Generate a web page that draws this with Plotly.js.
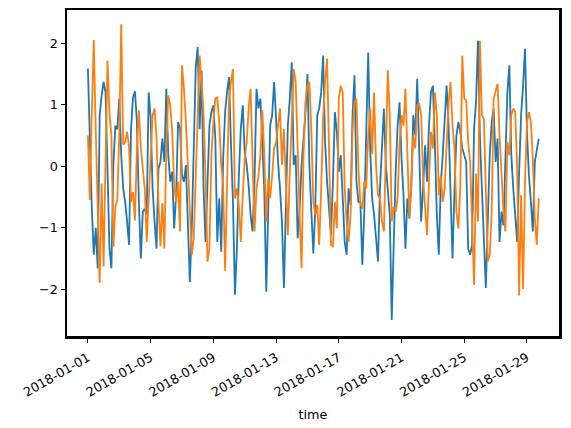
<!DOCTYPE html>
<html>
<head>
<meta charset="utf-8">
<script src="https://cdn.plot.ly/plotly-3.0.1.min.js"></script>
<style>html,body{margin:0;padding:0;background:#fff;}#chart{width:571px;height:428px;}</style>
</head>
<body>
<div id="chart"></div>
<script>
// time axis: 3-hourly samples starting 2018-01-01
const startTime = '2018-01-01T00:00:00Z';
const stepHours = 3;

const seriesA = [
 1.59, 0.29, -0.69, -1.44, -1.0, -1.66, 0.83, 1.15, 1.37, 1.2, 0.02, -1.34, -1.66, 0.02, 0.66, 0.6, 1.10, 0.18, -0.36, -0.58, -0.9, -1.28, 0.61, 1.12, 1.22, 0.72, -0.58, -1.5, -0.74, -0.69, -0.79, 1.2, 0.8, -0.36, -0.9, -1.34, -0.04,
 0.07, 0.45, 0.07, 1.26, 0.18, -0.25, -0.09, -1.01, -0.47, 0.72, 0.61, -0.15, -0.25, 0.02, -1.01, -1.88, -1.01, 0.29, 1.6, 1.94, 0.6, 1.55, -0.36, -1.23, -0.25, 0.66, 0.88, 0.99, 0.45, -1.23, -0.52, -1.39, 0.12, 0.88, 1.21, 1.45, 0.34, -0.58,
 -2.09, -1.34, -0.15, 0.61, 0.99, 0.23, 0.02, -0.31, -0.79, -1.06, -0.25, 1.26, 0.94, 1.10, 0.39, -0.42, -2.04, -0.9, 0.66, 0.83, 1.37, 0.77, 0.07, -0.36, -0.9, -1.98, -0.74, 0.66, 1.10, 1.69, 0.02, 0.18, -1.17, -0.69, 0.02, 0.45, 0.88, 1.5,
 0.02, -0.74, -1.42, -0.69, 0.83, 0.94, 1.2, 1.8, 0.39, -0.25, -0.63, -1.12, -0.25, 0.88, 0.56, -0.09, 0.18, -0.52, -1.23, -1.44, -0.36, -0.63, 0.83, 1.48, -0.25, -0.58, -0.58, -1.6, -0.74, 0.56, 1.85, 0.29, -0.52, -0.79, -1.23, -1.55, -0.36, 0.39,
 0.94, 0.02, -0.42, -0.79, -2.5, -1.06, -0.09, 0.66, 1.04, 0.12, -0.47, -1.34, -0.52, -0.85, -0.31, 0.83, 0.50, 1.42, 0.39, -0.9, -0.36, 0.34, -0.25, 0.66, 1.2, 1.31, 0.39, -0.79, -1.44, -0.31, 0.18, 0.83, 1.31, 0.66, -0.47, -1.5, -0.42, 0.50,
 0.72, 0.56, 0.29, 0.18, 0.07, -1.34, -1.44, -1.28, 0.61, 1.04, 2.04, 0.45, -0.42, -1.34, -1.98, -0.9, 0.18, 0.72, 0.94, 0.07, 0.45, -1.23, -0.74, -0.96, 0.18, 1.2, 1.64, 0.18, -0.36, -0.74, -1.23, -0.09, 0.83, 1.31, 1.91, 0.56, -0.15, -0.58, -1.06, 0.07, 0.29, 0.45
];

const seriesB = [
 0.5, -0.55, 0.9, 2.05, 0.58, -0.66, -1.9, -0.28, -1.63, 0.1, 1.72, 0.85, 0.5, -1.31, -0.66, -0.55, 0.5, 2.31, 0.35, 0.39, 0.56, 0.31, -0.58, -0.42, -0.88, 0.29, 0.91, 0.29, -0.09, -0.36, -1.23, -0.47, 0.34, 0.83, 0.94, 0.48, -0.58,
 -1.3, -0.6, -1.34, 0.29, 1.15, 0.99, 0.56, -0.31, -0.58, -0.25, -1.06, 1.64, 1.26, 0.72, 0.07, -0.79, -1.44, -1.17, -0.2, 0.83, 1.8, 1.37, 0.83, -0.15, -1.55, -1.34, 0.18, 0.72, 1.10, 1.12, 0.72, 0.02, -0.31, -1.7, -0.2, 1.10, 1.37, 1.58,
 -0.52, -0.36, -0.63, -1.23, -0.47, 0.12, 0.39, 0.94, 1.26, -0.09, -1.06, -0.36, -0.15, 0.18, 0.91, 0.18, -0.9, -0.2, -0.52, -0.15, 0.29, 0.39, 0.72, 0.94, 0.02, 0.61, -0.25, -1.12, -0.09, 0.83, 1.58, 1.37, 0.07, -0.79, -1.66, 0.18, 1.04, 1.31,
 1.37, 0.56, -0.58, -0.79, -0.63, -1.28, -0.36, 0.77, 1.37, 1.75, 0.3, -1.28, -1.3, -0.58, -1.01, 1.1, 1.31, 1.2, -0.36, -0.9, -1.23, -0.79, 0.56, 1.04, 1.1, -0.04, -0.6, -0.69, -0.25, -0.36, 0.5, 0.94, 0.2, 1.2, 0.02, -0.47, -0.52, -0.9,
 -1.06, 0.56, 1.56, 0.83, -0.9, -0.66, -0.74, -0.52, 0.39, 0.83, 0.66, 1.26, -0.04, -0.85, -0.25, 0.5, 0.29, 0.99, 1.02, 0.83, -0.2, -0.63, -1.12, -0.25, 0.56, 0.29, 1.2, 0.83, -0.47, -0.15, -0.58, -0.36, 0.5, 1.04, 1.37, 0.66, 0.29, -0.74,
 -1.01, -0.31, 1.8, 1.10, 1.07, 0.39, 0.07, -0.79, -1.93, -0.12, -0.9, 2.04, 0.83, 0.77, -0.58, -1.55, -1.44, -0.74, 1.1, 1.2, 1.34, 0.5, -0.15, -0.74, -1.06, 0.39, 0.18, 0.83, 0.94, 0.88, -0.04, -2.1, -0.47, -2.0, -0.25, 0.72, 0.88, 0.72, 0.12, -0.85, -1.28, -0.52
];

const xTickDates = ['2018-01-01','2018-01-05','2018-01-09','2018-01-13','2018-01-17','2018-01-21','2018-01-25','2018-01-29'];
const xTickLabels = ['2018-01-01','2018-01-05','2018-01-09','2018-01-13','2018-01-17','2018-01-21','2018-01-25','2018-01-29'];
const yTickVals = [-2, -1, 0, 1, 2];
const yTickLabels = ['\u22122', '\u22121', '0', '1', '2'];
const xLabel = 'time';

function timeAxis(n) {
  const t0 = Date.parse(startTime);
  const out = [];
  for (let i = 0; i < n; i++) {
    out.push(new Date(t0 + i * stepHours * 3600 * 1000).toISOString().replace('T', ' ').slice(0, 19));
  }
  return out;
}

const font = {family: 'DejaVu Sans', size: 12.8, color: '#000'};

const traces = [
  {x: timeAxis(seriesA.length), y: seriesA, type: 'scatter', mode: 'lines',
   line: {color: '#1f77b4', width: 1.8}, showlegend: false, hoverinfo: 'skip'},
  {x: timeAxis(seriesB.length), y: seriesB, type: 'scatter', mode: 'lines',
   line: {color: '#ff7f0e', width: 1.8}, showlegend: false, hoverinfo: 'skip'}
];

const layout = {
  width: 571, height: 428,
  margin: {l: 67, r: 12, t: 10, b: 92, pad: 0},
  paper_bgcolor: '#fff', plot_bgcolor: '#fff',
  font: font,
  xaxis: {
    type: 'date', range: ['2017-12-30 16:00', '2018-01-31 01:00'],
    tickmode: 'array', tickvals: xTickDates, ticktext: xTickLabels,
    tickangle: -30, ticks: 'outside', ticklen: 4, tickwidth: 1, tickcolor: '#000',
    ticklabelstandoff: 3,
    showline: true, mirror: true, linewidth: 2.5, linecolor: '#000',
    showgrid: false, zeroline: false, tickfont: font, automargin: false,
    title: {text: xLabel, font: font, standoff: 12}
  },
  yaxis: {
    range: [-2.76, 2.54],
    tickmode: 'array', tickvals: yTickVals, ticktext: yTickLabels,
    ticks: 'outside', ticklen: 4, tickwidth: 1, tickcolor: '#000',
    showline: true, mirror: true, linewidth: 2.5, linecolor: '#000',
    showgrid: false, zeroline: false, tickfont: font, automargin: false
  }
};

Plotly.newPlot('chart', traces, layout, {staticPlot: true, displayModeBar: false});
</script>
</body>
</html>
